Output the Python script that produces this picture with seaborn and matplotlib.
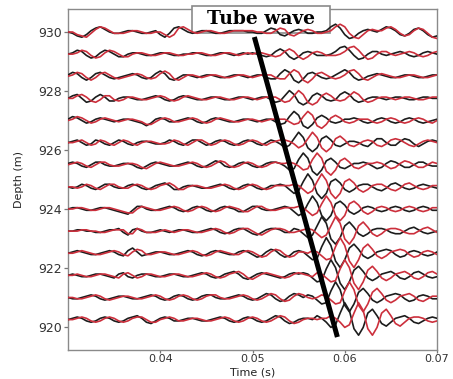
import numpy as np
import pandas as pd
import matplotlib
matplotlib.use("Agg")
import matplotlib.pyplot as plt
import seaborn as sns
from matplotlib.patches import Rectangle

# ---------------- data ----------------
t_start = 0.030          # s, first sample
dt = 0.0005              # s, sample interval
depths = [930.0, 929.25, 928.5, 927.75, 927.0, 926.25, 925.5,
          924.75, 924.0, 923.25, 922.5, 921.75, 921.0, 920.25]
amp_scale = 1.3 / 29.5   # depth units per amplitude unit

black_traces = [
    [0,-1,-3,-4,-2,1,3,4,2, 0,-1,-1,0,1,1,0,-1,-1, 0,1,-2,-4,-1,3,4,2,0, -1,0,1,1,0,-1,-1,0,1,
     1,1,1,0,0,-1,-1,1,3, 2,-2,-3,-1,1,2,1,-1,-1, 0,0,1,4,6,3,-2,-5,-4, -1,1,2,1,0,2,4,3,1, -2,-3,-1,2,3,1,-2,-4,-3],
    [0,1,3,2,-1,-3,-2,1,3, 2,0,-2,-2,0,1,1,0,-1, -1,0,1,1,0,-1,-1,0,0, 1,1,0,-1,-1,0,1,1,0,
     -1,0,1,0,1,0,-1,-2,-1, 2,4,2,-2,-4,-2,1,2,1, -1,-1,-1,0,2,5,6,3,-1, -4,-3,0,2,2,0,-1,0,1, 2,1,-1,-2,-1,1,2,1,0],
    [1,3,2,-1,-3,-1,2,3,1, -1,-2,-1,0,1,2,1,-1,-2, -1,2,4,2,-2,-3,-1,1,1, 0,-1,0,1,1,0,-1,-1,0,
     1,1,0,-1,0,1,1,-1,-2, -2,2,5,3,-3,-5,-2,2,3, 1,-1,-2,-1,1,3,5,3,-1, -3,-2,0,1,2,1,0,-1,-1, 0,1,1,0,-1,-1,0,1,1],
    [0,2,3,0,-3,-2,1,3,1, -2,-2,0,1,1,0,-1,-1,0, 1,2,1,-1,-2,-1,1,2,1, 0,-1,-1,0,1,1,0,-1,-1,
     0,1,1,0,-1,0,1,1,-1, -3,-2,2,6,3,-3,-5,-3,2, 4,2,-1,-2,-1,3,5,3,-1, -3,-2,0,1,1,0,-1,0,1, 1,0,-1,-1,0,1,1,0,0],
    [1,3,2,0,-2,-1,1,2,1, 0,-1,0,1,1,0,-1,-2,-4, -2,1,2,1,-1,-1,0,1,2, 1,-1,-2,-1,1,2,1,0,-1,
     -1,0,1,1,0,-1,0,1,1, -1,-3,-2,3,7,4,-4,-6,-3, 2,4,2,-1,-2,-1,1,1,2, 1,-1,-2,-1,1,2,1,-1,-2, -1,1,2,1,-1,-2,-1,0,1],
    [0,1,2,0,-2,-1,2,1,-1, -2,0,2,1,-1,-2,0,1,1, 0,-1,-1,0,2,1,-1,-2,0, 2,2,0,-2,-1,1,2,1,-1,
     -2,-1,1,2,1,-1,-2,0,2, 1,-1,-4,-2,3,8,4,-4,-7, -4,3,5,2,-2,-3,-1,1,1, 0,-2,-3,0,3,3,0,-2,-2, 1,3,2,-1,-3,-1,1,2,1],
    [1,2,1,-1,-2,0,2,2,0, -1,-1,0,1,1,0,-2,-3,-1, 1,2,1,0,-1,-1,0,1,2, 1,-1,-2,-1,1,3,2,-1,-2,
     -1,1,2,1,-1,-2,-1,1,2, 2,1,-1,-4,-3,4,9,5,-5, -8,-4,3,5,2,-2,-3,-1,1, 1,2,1,-1,-3,-2,1,3,2, 0,-2,-2,0,2,2,0,-1,-1],
    [0,-1,0,2,1,-1,-2,0,2, 2,0,-1,-1,1,2,1,-1,-2, -1,1,2,3,1,-2,-2,0,1, 1,0,-1,-1,0,1,2,1,-1,
     -2,-1,1,2,1,-1,-2,-1,1, 1,2,1,-2,-5,-3,4,10,5, -5,-9,-5,4,6,3,-2,-4,-2, 1,2,2,0,-2,-3,-1,2,3, 1,-1,-2,-1,1,2,1,0,-1],
    [0,1,1,0,-1,-1,0,1,1, 0,-1,-2,-3,-4,-1,2,2,0, -1,-1,0,1,2,1,-1,-2,-1, 1,2,1,-1,-2,-1,1,2,1,
     0,-2,-2,0,2,2,0,-1,-1, 0,1,2,1,-2,-5,-3,4,10, 5,-5,-9,-5,4,6,3,-2,-4, -2,1,2,1,-1,-2,-1,1,2, 1,-1,-2,-1,1,2,1,-1,-1],
    [0,0,1,1,0,0,-1,-1,0, 1,1,2,-1,-3,1,2,0,-1, -1,0,1,0,-1,0,1,1,0, -1,-1,0,1,2,1,-1,-2,-1,
     1,2,2,0,-2,-3,-1,1,2, 2,1,-1,-1,2,1,-2,-5,-3, 4,11,6,-6,-10,-5,4,7,3, -2,-4,-2,1,2,2,1,-1,-2, -2,0,2,3,1,-1,-2,-1,0],
    [0,1,2,1,0,-1,-1,0,1, 2,1,-1,-2,2,4,1,-2,-1, 0,1,1,0,-1,-1,0,1,2, 1,-1,-2,-1,1,2,1,0,-1,
     -1,1,2,1,-1,-3,-2,1,3, 2,-1,-3,-2,1,2,1,-2,-5, -4,5,12,6,-6,-11,-5,4,7, 3,-2,-4,-2,1,2,3,2,-1, -3,-2,1,2,1,-1,-2,-1,1],
    [0,1,0,-1,-1,0,1,1,0, -1,-2,1,2,-1,-2,0,1,1, 0,-1,-1,0,1,1,0,-1,-1, 0,1,2,1,-1,-2,-1,1,2,
     3,1,-2,-3,-1,1,2,1,0, -1,-2,-1,1,2,1,2,1,-2, -5,-4,5,12,6,-6,-11,-5,4, 7,3,-2,-4,-2,1,2,3,1, -2,-3,-1,2,3,1,-1,-2,-1],
    [0,-1,-1,0,1,2,1,-1,-2, -1,0,1,1,0,-1,-1,0,1, 2,1,-1,-2,-1,1,2,1,-1, -2,-1,1,2,2,0,-1,-1,0,
     1,2,1,-1,-2,-1,1,3,2, -1,-3,-2,1,3,2,0,2,1, -2,-5,-4,5,12,6,-6,-11,-5, 4,7,3,-2,-4,-2,1,2,3, 2,-1,-3,-2,1,2,1,-1,-1],
    [0,1,2,1,-1,-2,-1,1,2, 1,-1,-2,-1,1,2,3,1,-2, -3,-1,1,2,1,-1,-1,0,1, 1,0,-1,-1,0,1,2,1,-1,
     -2,-1,1,2,1,-1,-2,-1,1, 3,2,-1,-3,-2,0,1,1,0, 3,1,-2,-6,-4,5,13,7,-7, -12,-6,5,8,3,-3,-5,-2,1, 2,3,1,-2,-3,-1,1,2,1],
]

red_traces = [
    [0,0,-2,-3,-4,-1,2,4,3, 1,-1,-1,-1,0,1,1,0,-1, -1,0,0,-2,-4,-2,3,4,2, 0,-1,0,1,1,0,-1,-1,0,
     1,1,1,1,1,0,0,-1,-1, 1,3,2,-2,-3,-1,1,2,1, -1,-1,0,1,4,6,4,-1,-4, -5,-2,1,2,1,1,3,4,2, -1,-3,-2,1,3,2,-1,-4,-5],
    [0,0,1,3,2,-1,-3,-2,1, 3,2,0,-2,-2,0,1,1,0, -1,-1,0,1,1,0,-1,-1,0, 0,1,1,0,-1,-1,0,1,1,
     0,-1,0,1,0,1,1,0,-1, -2,-1,2,4,2,-2,-4,-2,1, 2,1,-1,-1,-1,0,2,5,6, 3,-1,-4,-3,0,2,2,0,-1, 0,1,2,1,-1,-2,-1,1,2],
    [0,1,3,2,-1,-3,-1,2,3, 1,-1,-2,-1,0,1,2,1,-1, -2,-1,2,4,2,-2,-3,-1,1, 1,0,-1,0,1,1,0,-1,-1,
     0,1,1,0,-1,0,1,1,1, -1,-2,-2,2,5,3,-3,-5,-2, 2,3,1,-1,-2,-1,1,4,5, 2,-2,-3,-1,1,2,1,0,-1, -1,0,1,1,0,-1,-1,0,1],
    [0,0,2,3,1,-2,-3,-1,2, 2,-1,-2,-1,1,1,0,-1,-1, 0,1,2,1,-1,-2,-1,1,2, 1,0,-1,-1,0,1,1,0,-1,
     -1,0,1,1,0,-1,0,1,1, 1,-1,-3,-2,2,6,3,-3,-5, -3,2,4,2,-1,-2,-1,2,5, 3,-1,-3,-2,0,1,1,0,-1, 0,1,1,0,-1,-1,0,1,1],
    [0,1,3,2,0,-2,-1,1,2, 1,0,-1,0,1,1,0,-1,-3, -3,-1,1,2,1,-1,-1,0,1, 2,1,-1,-2,-1,1,2,1,0,
     -1,-1,0,1,1,0,-1,0,1, 1,1,1,-1,-3,-2,3,7,4, -4,-6,-3,2,4,2,-1,-2,-1, 1,1,1,-1,-2,-1,1,2,1, -1,-2,-1,1,2,1,-1,-2,0],
    [0,0,1,2,0,-2,-1,2,1, -1,-2,0,2,1,-1,-2,0,1, 1,0,-1,-1,0,2,1,-1,-2, 0,2,2,0,-2,-1,1,2,1,
     -1,-2,-1,1,2,1,-1,-2,0, 1,2,2,1,-1,-4,-2,3,8, 4,-4,-7,-4,3,5,2,-2,-3, -1,1,2,1,-2,-3,-1,2,3, 2,0,-2,-3,-1,1,2,1,0],
    [0,1,2,1,-1,-2,0,2,2, 0,-1,-1,0,1,1,0,-2,-3, -1,1,2,1,0,-1,-1,0,1, 2,1,-1,-2,-1,1,3,2,-1,
     -2,-1,1,2,1,-1,-2,-1,1, 2,1,1,2,1,-1,-4,-3,4, 9,5,-5,-8,-4,3,5,2,-2, -3,-1,1,1,2,1,-1,-3,-2, 1,3,2,0,-2,-2,0,2,1],
    [0,0,-1,0,2,1,-1,-2,0, 2,2,0,-1,-1,1,2,1,-1, -2,-1,1,2,3,1,-2,-2,0, 1,1,0,-1,-1,0,1,2,1,
     -1,-2,-1,1,2,1,-1,-2,-1, 1,1,1,1,2,1,-2,-5,-3, 4,10,5,-5,-9,-5,4,6,3, -2,-4,-2,1,2,2,0,-2,-3, -1,2,3,1,-1,-2,-1,1,1],
    [0,0,1,1,0,-1,-1,0,1, 1,0,-1,-2,-3,-3,0,2,1, 0,-1,-1,0,1,2,1,-1,-2, -1,1,2,1,-1,-2,-1,1,2,
     1,0,-2,-2,0,2,2,0,-1, -1,0,1,1,1,2,1,-2,-5, -3,4,10,5,-5,-9,-5,4,6, 3,-2,-4,-2,1,2,1,-1,-2, -1,1,2,1,-1,-2,-1,1,1],
    [0,0,0,1,1,0,0,-1,-1, 0,1,1,1,-2,-2,2,1,-1, -1,-1,0,1,0,-1,0,1,1, 0,-1,-1,0,1,2,1,-1,-2,
     -1,1,2,2,0,-2,-3,-1,1, 2,2,1,-1,-1,0,1,2,1, -2,-5,-3,4,11,6,-6,-10,-5, 4,7,3,-2,-4,-2,1,2,2, 1,-1,-2,-2,0,2,3,1,-1],
    [0,0,1,2,1,0,-1,-1,0, 1,2,1,-1,-2,1,3,2,-1, -1,0,1,1,0,-1,-1,0,1, 2,1,-1,-2,-1,1,2,1,0,
     -1,-1,1,2,1,-1,-3,-2,1, 3,2,-1,-3,-2,1,1,0,2, 1,-2,-5,-4,5,12,6,-6,-11, -5,4,7,3,-2,-4,-2,1,2, 3,2,-1,-3,-2,1,2,1,-1],
    [0,0,1,0,-1,-1,0,1,1, 0,-1,-2,1,2,0,-2,-1,1, 1,0,-1,-1,0,1,1,0,-1, -1,0,1,2,1,-1,-2,-1,1,
     2,3,1,-2,-3,-1,1,2,1, 0,-1,-2,-1,1,2,1,0,-1, 2,1,-2,-5,-4,5,12,6,-6, -11,-5,4,7,3,-2,-4,-2,1, 2,3,1,-2,-3,-1,2,3,1],
    [0,0,-1,-1,0,1,2,1,-1, -2,-1,0,1,1,0,-1,-1,0, 1,2,1,-1,-2,-1,1,2,1, -1,-2,-1,1,2,2,0,-1,-1,
     0,1,2,1,-1,-2,-1,1,3, 2,-1,-3,-2,1,3,2,0,-1, 0,2,1,-2,-5,-4,5,12,6, -6,-11,-5,4,7,3,-2,-4,-2, 1,2,3,1,-2,-3,-1,1,1],
    [0,0,1,2,1,-1,-2,-1,1, 2,1,-1,-2,-1,1,2,2,0, -2,-2,0,1,2,1,-1,-1,0, 1,1,0,-1,-1,0,1,2,1,
     -1,-2,-1,1,2,1,-1,-2,-1, 1,3,2,-1,-3,-2,0,1,1, 0,1,1,3,1,-2,-6,-4,5, 13,7,-7,-12,-6,5,8,3,-3, -5,-2,1,2,2,1,-1,-2,-1],
]

tube_time = [0.0502, 0.0592]      # annotation line (s)
tube_depth = [929.83, 919.66]     # annotation line (m)
x_ticks = [0.04, 0.05, 0.06, 0.07]
y_ticks = [920, 922, 924, 926, 928, 930]

# ---------------- long table ----------------
rows = []
for i, d in enumerate(depths):
    for name, traces in (("black", black_traces), ("red", red_traces)):
        amp = np.asarray(traces[i], dtype=float)
        t = t_start + dt * np.arange(len(amp))
        for tt, a in zip(t, amp):
            rows.append((tt, d + a * amp_scale, i, name))
df = pd.DataFrame(rows, columns=["time", "depth", "trace", "series"])

# ---------------- figure ----------------
sns.set_style("ticks")
plt.rcParams["font.family"] = ["DejaVu Sans"]

fig = plt.figure(figsize=(4.53, 3.79), dpi=100)
ax = fig.add_axes([68 / 453, 29 / 379, 369 / 453, 341 / 379])

sns.lineplot(data=df, x="time", y="depth", hue="series", units="trace",
             estimator=None, sort=False, palette={"black": "#1c1c1c", "red": "#cc2f3c"},
             linewidth=1.2, legend=False, ax=ax, zorder=3)

ax.plot(tube_time, tube_depth, color="black", linewidth=3.6,
        solid_capstyle="butt", zorder=4)

ax.set_xlim(0.030, 0.070)
ax.set_ylim(919.22, 930.78)
ax.set_xticks(x_ticks)
ax.set_xticklabels([f"{v:.2f}" for v in x_ticks])
ax.set_yticks(y_ticks)
ax.set_yticklabels([str(v) for v in y_ticks])
ax.tick_params(direction="out", length=3, width=0.9, color="#777777",
               labelcolor="#333333", labelsize=9, pad=1.5)
ax.tick_params(axis="x", length=2.5, labelsize=8, pad=0.5)
for s in ax.spines.values():
    s.set_color("#8a8a8a")
    s.set_linewidth(1.0)
    s.set_visible(True)

ax.set_xlabel("Time (s)", fontsize=8, color="#222222")
ax.xaxis.set_label_coords(0.5, -0.050)
ax.set_ylabel("Depth (m)", fontsize=8, color="#222222")
ax.yaxis.set_label_coords(-0.118, 0.5)

# label box
box = Rectangle((192 / 453, 1 - 33 / 379), 138 / 453, 27 / 379,
                transform=fig.transFigure, facecolor="white",
                edgecolor="#8a8a8a", linewidth=1.2, zorder=2.8, clip_on=False)
ax.add_patch(box)
ax.text(261 / 453, 1 - 19 / 379, "Tube wave", transform=fig.transFigure,
        ha="center", va="center", fontsize=13.5, fontweight="bold",
        family="DejaVu Serif", color="black", zorder=5)

fig.savefig("out.png", dpi=100)
